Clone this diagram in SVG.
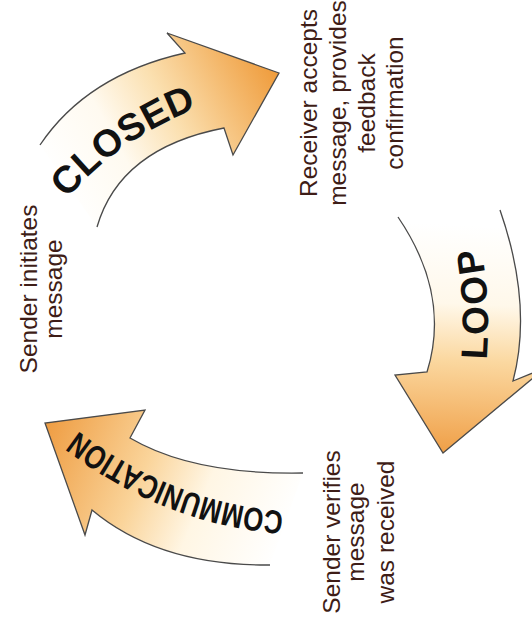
<svg xmlns="http://www.w3.org/2000/svg" width="532" height="634" viewBox="0 0 532 634">
<style>
.edge{fill:none;stroke:#4a4a4a;stroke-width:1.3;stroke-linejoin:miter}
.big{font-family:"Liberation Sans",Arial,sans-serif;font-weight:bold;fill:#111}
.lbl{font-family:"Liberation Sans",Arial,sans-serif;font-size:24.5px;fill:#3e1d17;text-anchor:middle}
</style>
<defs>
<linearGradient id="gClosed" gradientUnits="userSpaceOnUse" x1="60" y1="195" x2="278" y2="75">
<stop offset="0" stop-color="#ffffff"/>
<stop offset="0.3" stop-color="#fffaf0"/>
<stop offset="0.55" stop-color="#fbe0b0"/>
<stop offset="1" stop-color="#ef9c3c"/>
</linearGradient>
<linearGradient id="gLoop" gradientUnits="userSpaceOnUse" x1="460" y1="225" x2="450" y2="450">
<stop offset="0" stop-color="#ffffff"/>
<stop offset="0.35" stop-color="#fff8ea"/>
<stop offset="0.6" stop-color="#fbd8a0"/>
<stop offset="1" stop-color="#f0a14a"/>
</linearGradient>
<linearGradient id="gComm" gradientUnits="userSpaceOnUse" x1="290" y1="525" x2="50" y2="425">
<stop offset="0" stop-color="#ffffff"/>
<stop offset="0.35" stop-color="#fff6e4"/>
<stop offset="0.6" stop-color="#fad49a"/>
<stop offset="1" stop-color="#ef9f46"/>
</linearGradient>
<path id="tpClosed" d="M 64,203 Q 113,141 202,106"/>
<path id="tpLoop" d="M 486,368 Q 492,305 480,240"/>
<path id="tpComm" d="M 295,512 Q 172,506 69,424"/>
</defs>

<g id="connectors">
<g id="arrow-closed">
<path d="M 40,145 Q 87,75 185,53 L 167,33 L 279,73 L 233,155 L 224,128 Q 120,148 97,227 Z" fill="url(#gClosed)" stroke="none"/>
<path class="edge" d="M 40,145 Q 87,75 185,53 L 167,33 L 279,73 L 233,155 L 224,128 Q 120,148 97,227"/>
<text class="big" font-size="38"><textPath href="#tpClosed" startOffset="50%" text-anchor="middle" textLength="160" lengthAdjust="spacing">CLOSED</textPath></text>
</g>
<g id="arrow-loop">
<path d="M 398,217 Q 451,295 427,372 L 395,375 L 443,453 L 545,368 L 513,381 Q 533,305 500,210 Z" fill="url(#gLoop)" stroke="none"/>
<path class="edge" d="M 398,217 Q 451,295 427,372 L 395,375 L 443,453 L 545,368 L 513,381 Q 533,305 500,210"/>
<text class="big" font-size="37"><textPath href="#tpLoop" startOffset="50%" text-anchor="middle" textLength="112" lengthAdjust="spacing">LOOP</textPath></text>
</g>
<g id="arrow-communication">
<path d="M 303,473 Q 193,475 130,438 L 145,410 L 45,423 L 85,535 L 92,510 Q 159,566 270,565 Z" fill="url(#gComm)" stroke="none"/>
<path class="edge" d="M 303,473 Q 193,475 130,438 L 145,410 L 45,423 L 85,535 L 92,510 Q 159,566 270,565"/>
<text class="big" font-size="33"><textPath href="#tpComm" startOffset="50%" text-anchor="middle" textLength="224" lengthAdjust="spacingAndGlyphs">COMMUNICATION</textPath></text>
</g>
</g>

<g id="node-sender-initiates">
<text class="lbl" transform="translate(37,289) rotate(-90)"><tspan x="0" y="0">Sender initiates</tspan><tspan x="0" y="25">message</tspan></text>
</g>
<g id="node-receiver-accepts">
<text class="lbl" transform="translate(317,103) rotate(-90)"><tspan x="0" y="0">Receiver accepts</tspan><tspan x="0" y="29">message, provides</tspan><tspan x="0" y="58">feedback</tspan><tspan x="0" y="86">confirmation</tspan></text>
</g>
<g id="node-sender-verifies">
<text class="lbl" transform="translate(340,532) rotate(-90)"><tspan x="0" y="0">Sender verifies</tspan><tspan x="0" y="24">message</tspan><tspan x="0" y="54">was received</tspan></text>
</g>
</svg>
